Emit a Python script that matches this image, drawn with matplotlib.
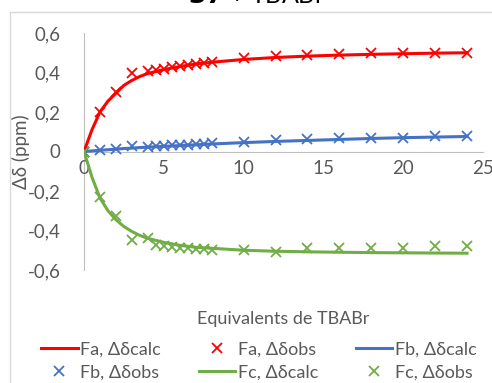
import matplotlib
matplotlib.use("Agg")
import matplotlib.pyplot as plt
from matplotlib.patches import Rectangle

plt.rcParams['font.family'] = ['Lato', 'Open Sans', 'DejaVu Sans']

# Observed points
x_obs = [0, 1, 2, 3, 4, 4.5, 5, 5.5, 6, 6.5, 7, 7.5, 8, 10, 12, 14, 16, 18, 20, 22, 24]
fa_obs = [0, 0.20, 0.30, 0.40, 0.41, 0.415, 0.42, 0.43, 0.435, 0.44, 0.445, 0.45, 0.455,
          0.475, 0.485, 0.49, 0.495, 0.50, 0.50, 0.50, 0.50]
fb_obs = [0, 0.01, 0.015, 0.03, 0.025, 0.03, 0.03, 0.032, 0.033, 0.035, 0.037, 0.04, 0.043,
          0.05, 0.058, 0.064, 0.07, 0.07, 0.07, 0.078, 0.08]
fc_obs = [0, -0.23, -0.325, -0.45, -0.44, -0.475, -0.48, -0.485, -0.49, -0.49, -0.495, -0.495, -0.50,
          -0.50, -0.51, -0.49, -0.49, -0.49, -0.49, -0.48, -0.48]

# Calculated curves
x_calc = [0, 0.5, 1, 1.5, 2, 2.5, 3, 3.5, 4, 5, 6, 7, 8, 10, 12, 14, 16, 18, 20, 22, 24]
fa_calc = [0, 0.11, 0.20, 0.255, 0.295, 0.335, 0.36, 0.38, 0.395, 0.415, 0.43, 0.443, 0.452,
           0.466, 0.476, 0.483, 0.488, 0.492, 0.495, 0.498, 0.50]
fb_calc = [0, 0.003, 0.006, 0.009, 0.012, 0.015, 0.017, 0.02, 0.022, 0.026, 0.03, 0.034, 0.038,
           0.045, 0.051, 0.056, 0.061, 0.066, 0.07, 0.073, 0.076]
fc_calc = [0, -0.13, -0.235, -0.30, -0.345, -0.38, -0.405, -0.425, -0.44, -0.46, -0.475, -0.485, -0.49,
           -0.50, -0.505, -0.508, -0.51, -0.512, -0.513, -0.514, -0.515]

y_ticks = [-0.6, -0.4, -0.2, 0, 0.2, 0.4, 0.6]
y_tick_labels = ['-0,6', '-0,4', '-0,2', '0', '0,2', '0,4', '0,6']
x_ticks = [0, 5, 10, 15, 20, 25]
x_tick_labels = ['0', '5', '10', '15', '20', '25']

RED = '#FF0000'
BLUE = '#4472C4'
GREEN = '#70AD47'
GRAY = '#595959'
AXGRAY = '#BFBFBF'

W, H = 492, 383
fig = plt.figure(figsize=(W / 100, H / 100), dpi=100)
fig.patch.set_facecolor('white')

# chart frame
fig.patches.append(Rectangle((10 / W, -0.05), 1.1, 1 - 12 / H + 0.05, transform=fig.transFigure,
                             fill=False, edgecolor='#D9D9D9', linewidth=1.0))

ax = fig.add_axes([84 / W, 1 - 270 / H, (483 - 84) / W, (270 - 33) / H])
ax.set_facecolor('none')

lw = 2.2
ms = 7.5
mew = 1.3
l_fa, = ax.plot(x_calc, fa_calc, color=RED, lw=lw, label='Fa, Δδcalc', zorder=3)
m_fa, = ax.plot(x_obs, fa_obs, ls='none', marker='x', color=RED, ms=ms, mew=mew, label='Fa, Δδobs', zorder=4)
l_fb, = ax.plot(x_calc, fb_calc, color=BLUE, lw=lw, label='Fb, Δδcalc', zorder=3)
m_fb, = ax.plot(x_obs, fb_obs, ls='none', marker='x', color=BLUE, ms=ms, mew=mew, label='Fb, Δδobs', zorder=4)
l_fc, = ax.plot(x_calc, fc_calc, color=GREEN, lw=lw, label='Fc, Δδcalc', zorder=3)
m_fc, = ax.plot(x_obs, fc_obs, ls='none', marker='x', color=GREEN, ms=ms, mew=mew, label='Fc, Δδobs', zorder=4)

ax.set_xlim(0, 25)
ax.set_ylim(-0.6, 0.6)
for s in ['top', 'right']:
    ax.spines[s].set_visible(False)
ax.spines['bottom'].set_position(('data', 0))
ax.spines['bottom'].set_color(AXGRAY)
ax.spines['left'].set_color(AXGRAY)
ax.spines['bottom'].set_zorder(1)
ax.spines['left'].set_zorder(1)

ax.set_xticks(x_ticks)
ax.set_xticklabels(x_tick_labels)
ax.set_yticks(y_ticks)
ax.set_yticklabels(y_tick_labels)
ax.tick_params(axis='both', length=0, labelsize=13.5, labelcolor=GRAY)
ax.tick_params(axis='y', pad=17)
ax.tick_params(axis='x', pad=6)

ax.set_ylabel('Δδ (ppm)', fontsize=13.5, color=GRAY)
ax.yaxis.set_label_coords(-0.135, 0.5)
ax.set_xlabel('Equivalents de TBABr', fontsize=13, color=GRAY)
ax.xaxis.set_label_coords(0.5, -0.175)

fig.text(257 / W, 1 - 3 / H, r'$\mathbf{37}$ + TBABr', fontsize=18, color='black',
         ha='center', va='baseline')

handles = [l_fa, m_fa, l_fb, m_fb, l_fc, m_fc]
order = [0, 3, 1, 4, 2, 5]
leg = fig.legend([handles[i] for i in order], [handles[i].get_label() for i in order],
                 loc='center', bbox_to_anchor=(259 / W, 1 - 361 / H), ncol=3, frameon=False,
                 fontsize=13, labelcolor=GRAY, handlelength=2.0, handletextpad=0.15,
                 columnspacing=2.1, labelspacing=0.42, borderaxespad=0)

fig.savefig('out.png', dpi=100)
